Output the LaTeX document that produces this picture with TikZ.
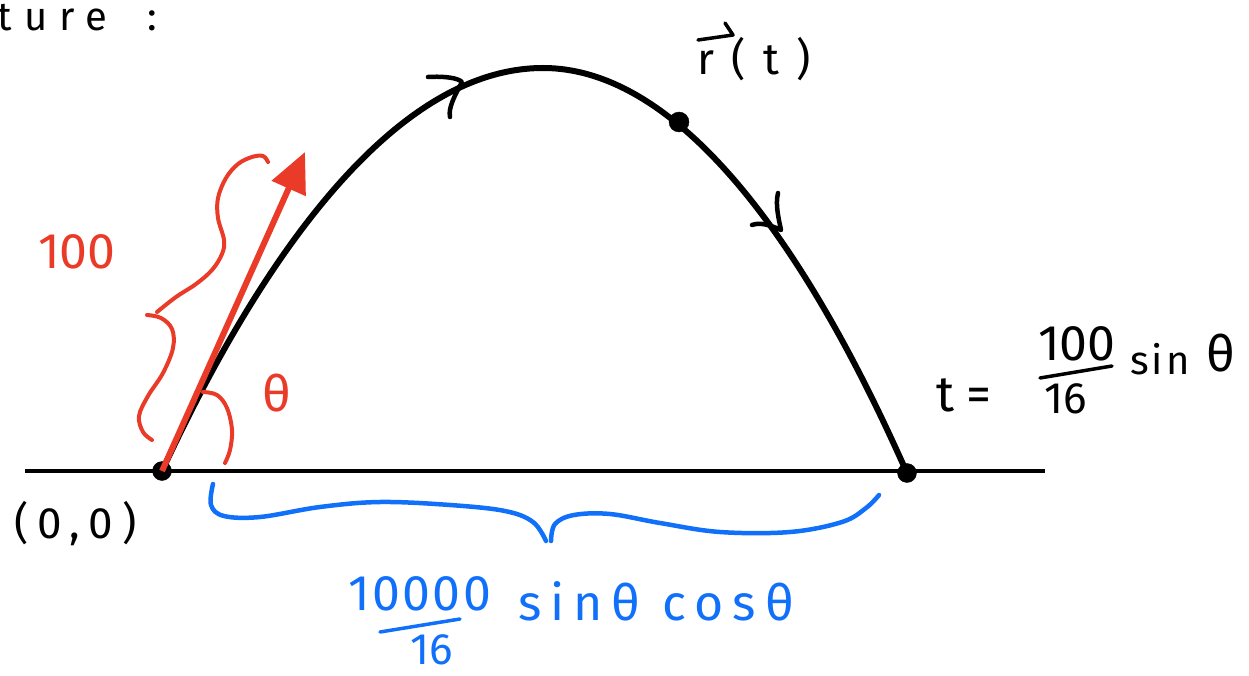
\documentclass[tikz,border=0pt]{standalone}
\usepackage{fontspec}
\usetikzlibrary{arrows.meta}
\newfontfamily\hand{Fira Sans}
\definecolor{hred}{RGB}{234,58,40}
\definecolor{hblue}{RGB}{16,112,250}
\tikzset{
  hw/.style={inner sep=0pt, outer sep=0pt, anchor=base west},
  big/.style={font=\hand\fontsize{50}{56}\selectfont},
  mid/.style={font=\hand\fontsize{44}{50}\selectfont},
  small/.style={font=\hand\fontsize{40}{46}\selectfont},
  dotmark/.style={circle, fill=black, draw=black, minimum size=19pt, inner sep=0pt},
  curve/.style={line width=6pt, line cap=round, line join=round},
  brace/.style={line width=4pt, line cap=round, line join=round},
}
\begin{document}
\begin{tikzpicture}[x=1pt,y=-1pt]
\useasboundingbox (0,0) rectangle (1249,676);
% ground
\coordinate (gl) at (25,471);
\coordinate (gr) at (1045,471);
\draw[line width=3.5pt] (gl) -- (gr);
% key points
\coordinate (P) at (543,68);
\coordinate (tip) at (305,152);
\node[dotmark] (O) at (162,471) {};
\node[dotmark] (E) at (907,473) {};
% trajectory
\draw[curve] (O.center) parabola bend (P) (E.center);
% direction chevrons
\draw[line width=4.5pt, line cap=round, line join=round] (428,77) .. controls (445,76) and (458,78) .. (462,82) .. controls (455,95) and (448,108) .. (450,117);
\draw[line width=4.5pt, line cap=round, line join=round] (778,193) .. controls (775,205) and (779,220) .. (781,230) .. controls (770,225) and (760,222) .. (752,225);
% point r(t)
\node[dotmark, minimum size=20pt] (R) at (679,122) {};
% red velocity arrow
\draw[hred, line width=6pt, -{Triangle[length=40pt,width=36pt]}] (O.center) -- (tip);
% red brace
\draw[hred, brace] plot[smooth, tension=0.6] coordinates {(268,162) (263,156) (252,157) (238,164) (226,178) (218,198) (218,218) (224,240) (222,254) (212,270) (196,284) (176,297) (157,312)};
\draw[hred, brace] plot[smooth, tension=0.6] coordinates {(147,315) (161,318) (172,329) (173,348) (163,373) (148,396) (139,416) (143,432) (152,440)};
% angle arc
\draw[hred, brace] plot[smooth, tension=0.6] coordinates {(203,392) (217,395) (227,408) (232,430) (230,450) (225,463)};
% blue brace
\draw[hblue, brace, line width=4.5pt] plot[smooth, tension=0.6] coordinates {(213,484) (211,505) (224,516) (260,517) (320,507) (380,502) (450,505) (505,511) (533,522) (546,541)};
\draw[hblue, brace, line width=4.5pt] plot[smooth, tension=0.6] coordinates {(551,541) (555,524) (574,515) (610,514) (660,523) (720,532) (790,532) (842,522) (866,508) (879,495)};
% texts
\node[hw, small] (ture) at (-2,31) {\addfontfeatures{LetterSpace=30}ture\hspace{40pt}:};
\node[hw, mid] (origin) at (14,538) {\addfontfeatures{LetterSpace=20}(0,0)};
\node[hw, big, text=hred] (hundred) at (38,268) {100};
\node[hw, big, text=hred] (theta) at (262,411) {θ};
\node[hw, mid] (rt) at (697,75) {\addfontfeatures{LetterSpace=40}r(t)};
\coordinate (ra1) at (698,40);
\coordinate (ra2) at (733,35);
\coordinate (ra3) at (725,23);
\draw[line width=3.5pt, line cap=round, line join=round] (ra1) -- (ra2) -- (ra3);
% t = 100/16 sin theta
\node[hw, big] (teq) at (936,411) {t\hspace{12pt}=};
\node[hw, big] (tnum) at (1038,360) {100};
\node[hw, mid] (tden) at (1044,413) {16};
\coordinate (tb1) at (1040,378);
\coordinate (tb2) at (1112,366);
\draw[line width=3.5pt, line cap=round] (tb1) -- (tb2);
\node[hw, small] (tsin) at (1130,374) {\addfontfeatures{LetterSpace=8}sin};
\node[hw, big] (ttheta) at (1206,371) {θ};
% blue range
\node[hw, big, text=hblue] (rnum) at (348,610) {\addfontfeatures{LetterSpace=5}10000};
\node[hw, mid, text=hblue] (rden) at (410,664) {16};
\coordinate (rb1) at (380,632);
\coordinate (rb2) at (460,619);
\draw[hblue, line width=3.5pt, line cap=round] (rb1) -- (rb2);
\node[hw, big, text=hblue] (rsc) at (518,620) {\addfontfeatures{LetterSpace=18}sinθ cosθ};
\end{tikzpicture}
\end{document}
